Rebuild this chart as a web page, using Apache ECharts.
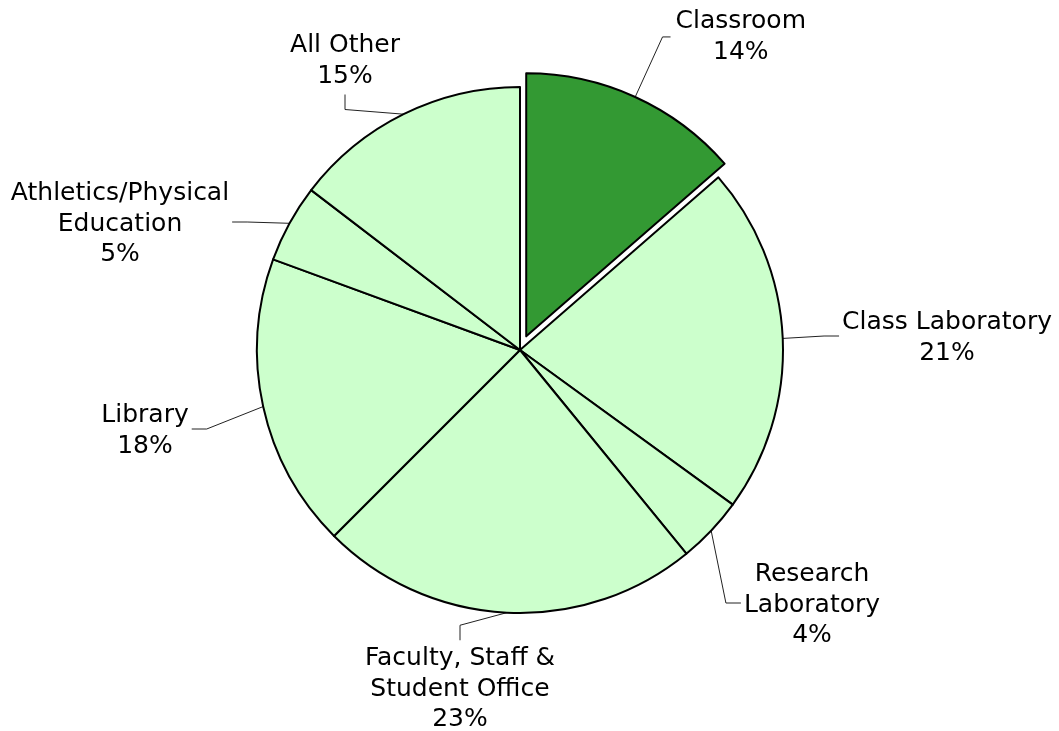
<!DOCTYPE html>
<html>
<head>
<meta charset="utf-8">
<script src="https://cdn.jsdelivr.net/npm/echarts@6/dist/echarts.min.js"></script>
<style>html,body{margin:0;padding:0;background:#fff;}#c{width:1059px;height:731px;}</style>
</head>
<body>
<div id="c"></div>
<script>
// Data
const categories = ['Classroom', 'Class Laboratory', 'Research\nLaboratory', 'Faculty, Staff &\nStudent Office', 'Library', 'Athletics/Physical\nEducation', 'All Other'];
const values = [13.6, 21.4, 4.1, 23.4, 18.1, 4.8, 14.6];
const highlighted = [true, false, false, false, false, false, false];

// Layout: label block centres (null = use the pie's own outside layout) and leader sides
const labelPositions = [null, [947, 338], [812, 605], [460, 689], [145, 431], [120, 224], [345, 61]];
const leaderSides = [null, 'left', 'left', 'top', 'right', 'right', 'bottom'];
const CX = 520, CY = 350, R = 263;
const ELBOW = 15, GAP = 3;
const lightColor = '#CCFFCC';
const darkColor = '#339933';
const FONT = '"DejaVu Sans", Verdana, sans-serif';
const FONT_SIZE = 25;
const LINE_H = 30.5;

// mid angles of slices (clockwise from 12 o'clock), derived from the values
const total = values.reduce((a, b) => a + b, 0);
const midAngles = [];
let cum = 0;
values.forEach(v => { midAngles.push((cum + v / 2) / total * Math.PI * 2); cum += v; });

const chart = echarts.init(document.getElementById('c'), null, {renderer: 'canvas'});
const seriesData = categories.map((name, i) => ({
  name: name,
  value: values[i],
  selected: highlighted[i],
  itemStyle: {color: highlighted[i] ? darkColor : lightColor},
  select: {itemStyle: {color: highlighted[i] ? darkColor : lightColor, borderColor: '#000', borderWidth: 2}},
  labelLine: highlighted[i] ? {length: 66, length2: 8} : {length: 20, length2: ELBOW}
}));

chart.setOption({
  animation: false,
  backgroundColor: '#fff',
  series: [{
    type: 'pie',
    center: [CX, CY],
    radius: R,
    startAngle: 90,
    clockwise: true,
    selectedMode: 'single',
    selectedOffset: 15,
    avoidLabelOverlap: false,
    itemStyle: {borderColor: '#000', borderWidth: 2},
    emphasis: {disabled: true},
    label: {
      show: true,
      position: 'outside',
      fontFamily: FONT,
      fontSize: FONT_SIZE,
      lineHeight: LINE_H,
      color: '#000',
      formatter: p => (p.name + '\n' + Math.round(p.percent) + '%').split('\n').map(s => '{t|' + s + '}').join('\n'),
      rich: {t: {align: 'center', fontFamily: FONT, fontSize: FONT_SIZE, lineHeight: LINE_H, color: '#000'}}
    },
    labelLine: {show: true, minTurnAngle: 0, lineStyle: {color: '#222', width: 1}},
    labelLayout: function (params) {
      const i = params.dataIndex;
      const pos = labelPositions[i];
      if (!pos) return {};
      const w = params.labelRect.width, h = params.labelRect.height;
      let anchor, elbow;
      switch (leaderSides[i]) {
        case 'left':   anchor = [pos[0] - w / 2 - GAP, pos[1] - 2]; elbow = [anchor[0] - ELBOW, anchor[1]]; break;
        case 'right':  anchor = [pos[0] + w / 2 + GAP, pos[1] - 2]; elbow = [anchor[0] + ELBOW, anchor[1]]; break;
        case 'top':    anchor = [pos[0], pos[1] - h / 2 - GAP]; elbow = [anchor[0], anchor[1] - ELBOW]; break;
        default:       anchor = [pos[0], pos[1] + h / 2 + GAP]; elbow = [anchor[0], anchor[1] + ELBOW]; break;
      }
      const a = midAngles[i];
      const arcPt = [CX + R * Math.sin(a), CY - R * Math.cos(a)];
      return {x: pos[0], y: pos[1], align: 'center', verticalAlign: 'middle', labelLinePoints: [arcPt, elbow, anchor]};
    },
    data: seriesData
  }]
});
</script>
</body>
</html>
